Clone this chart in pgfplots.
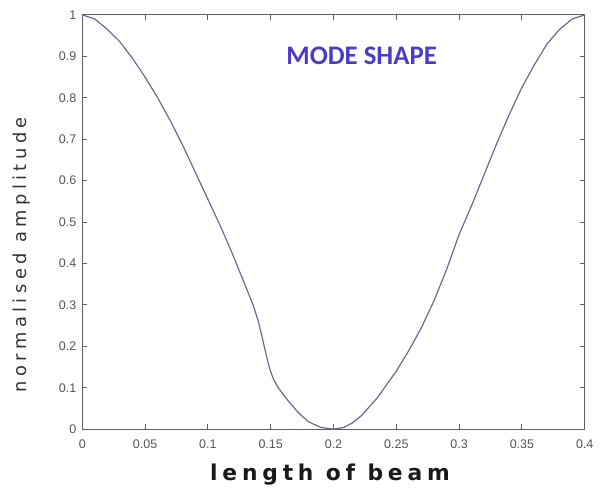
\documentclass[border=0pt]{standalone}
\usepackage{fontspec}
\setmainfont{Liberation Sans}
\newfontfamily\labelfont[LetterSpace=25]{DejaVu Sans}
\newfontfamily\xlabelfont[LetterSpace=22]{DejaVu Sans}
\newfontfamily\calfont{Carlito}
\usepackage{pgfplots}
\pgfplotsset{compat=1.18}

\definecolor{axisgray}{RGB}{95,95,95}
\definecolor{ticktext}{RGB}{85,85,85}
\definecolor{curve}{RGB}{105,105,145}
\definecolor{titleblue}{RGB}{74,60,200}

\begin{document}
\begin{tikzpicture}
\begin{axis}[
    scale only axis,
    width=253.5pt, height=209pt,
    xmin=0, xmax=0.4, ymin=0, ymax=1,
    xtick={0,0.05,0.1,0.15,0.2,0.25,0.3,0.35,0.4},
    xticklabels={0,0.05,0.1,0.15,0.2,0.25,0.3,0.35,0.4},
    ytick={0,0.1,0.2,0.3,0.4,0.5,0.6,0.7,0.8,0.9,1},
    yticklabels={0,0.1,0.2,0.3,0.4,0.5,0.6,0.7,0.8,0.9,1},
    tick align=inside,
    major tick length=2.5pt,
    axis line style={axisgray, line width=0.6pt},
    every tick/.style={axisgray, line width=0.5pt},
    tick label style={font=\fontsize{6.3}{7}\selectfont, text=ticktext},
    xticklabel style={yshift=-2pt},
    yticklabel style={xshift=0.5pt},
    xlabel={\xlabelfont\bfseries length of beam},
    ylabel={\labelfont normalised amplitude},
    xlabel style={font=\fontsize{11}{13}\selectfont, text=black!90, at={(rel axis cs:0.493,-0.110)}, anchor=center},
    ylabel style={font=\fontsize{9}{11}\selectfont, text=black!80, at={(rel axis cs:-0.121,0.421)}, anchor=center},
    clip=false,
]
\addplot[curve, line width=0.6pt] coordinates {
(0.000,1.000) (0.010,0.990) (0.020,0.965) (0.030,0.935) (0.040,0.895)
(0.050,0.850) (0.060,0.800) (0.070,0.745) (0.080,0.685) (0.090,0.620)
(0.100,0.555) (0.110,0.490) (0.120,0.420) (0.130,0.345) (0.136,0.300)
(0.140,0.262) (0.143,0.225) (0.146,0.185) (0.149,0.148) (0.152,0.122)
(0.156,0.100) (0.164,0.068) (0.172,0.040) (0.180,0.018) (0.190,0.004)
(0.200,0.000) (0.208,0.004) (0.215,0.015) (0.222,0.032) (0.235,0.076)
(0.250,0.140) (0.260,0.190) (0.270,0.245) (0.280,0.310) (0.290,0.385)
(0.300,0.470) (0.310,0.540) (0.320,0.615) (0.330,0.690) (0.340,0.760)
(0.350,0.825) (0.360,0.880) (0.370,0.930) (0.380,0.965) (0.390,0.990)
(0.400,1.000)
};
\node[font=\calfont\bfseries\fontsize{13.5}{15}\selectfont, text=titleblue, anchor=center]
    at (rel axis cs:0.556,0.90) {MODE SHAPE};
\path (rel axis cs:-0.1637,-0.1411) rectangle (rel axis cs:1.0197,1.0359);
\end{axis}
\end{tikzpicture}
\end{document}
